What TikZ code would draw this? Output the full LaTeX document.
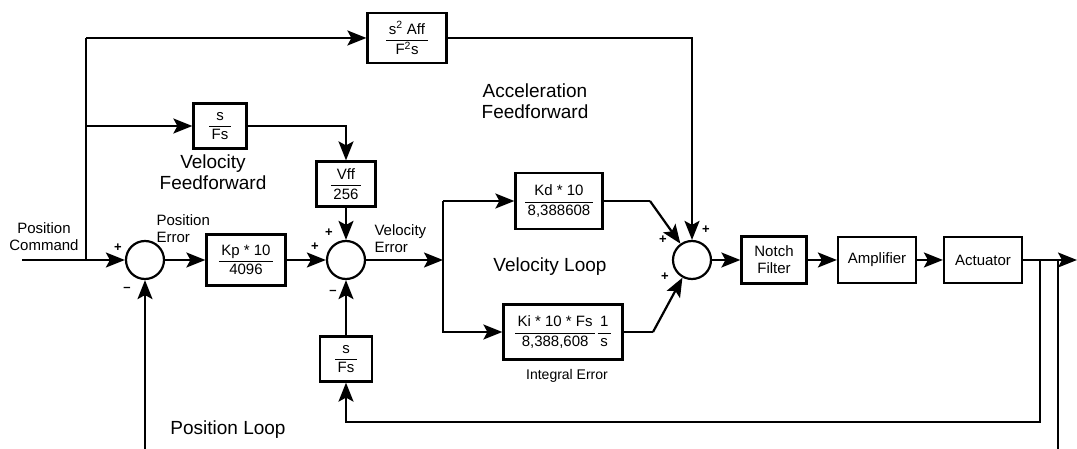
\documentclass[tikz,border=0pt]{standalone}
\usepackage{fontspec}
\setmainfont{Liberation Sans}
\usetikzlibrary{arrows.meta}
\newcommand{\blockfrac}[2]{$\displaystyle\frac{\mbox{\,#1\,}}{\mbox{\,#2\,}}$}
\begin{document}
\begin{tikzpicture}[x=1pt, y=-1pt,
        every node/.style={font=\fontsize{15}{17}\selectfont},
        block/.style={draw, line width=2.2pt, inner sep=2pt, align=center},
        sumnode/.style={draw, circle, line width=2.2pt, minimum size=38pt, inner sep=0pt},
        sig/.style={line width=2.2pt, -{Stealth[length=19pt, width=15pt, inset=4pt]}},
        wire/.style={line width=2.2pt},
        bigl/.style={font=\fontsize{19}{21}\selectfont, align=center},
        sgn/.style={font=\fontsize{13}{13}\selectfont\bfseries, inner sep=0pt}]
      \useasboundingbox (0,0) rectangle (1077,449);
      % summing junctions
      \node[sumnode] (sumP) at (145,260) {};
      \node[sumnode] (sumV) at (346,260) {};
      \node[sumnode] (sumO) at (692,260) {};
      % blocks
      \node[block, minimum width=79pt, minimum height=50pt] (aff) at (407,38) {\blockfrac{s\textsuperscript{2} Aff}{F\textsuperscript{2}s}};
      \node[block, minimum width=53pt, minimum height=45pt] (vffin) at (220,126) {\blockfrac{s}{Fs}};
      \node[block, minimum width=59pt, minimum height=45pt] (vff) at (346,184) {\blockfrac{Vff}{256}};
      \node[block, minimum width=79pt, minimum height=51pt] (kp) at (246,260) {\blockfrac{Kp * 10}{4096}};
      \node[block, minimum width=52pt, minimum height=45pt] (vfb) at (346,359) {\blockfrac{s}{Fs}};
      \node[block, minimum width=87pt, minimum height=56pt] (kd) at (559,201) {\blockfrac{Kd * 10}{8,388608}};
      \node[block, minimum width=119pt, minimum height=55pt] (ki) at (563,332) {\blockfrac{Ki * 10 * Fs}{8,388,608}\blockfrac{1}{s}};
      \node[block, minimum width=65pt, minimum height=47pt] (notch) at (774,260) {Notch\\Filter};
      \node[block, minimum width=78pt, minimum height=46pt] (amp) at (877,260) {Amplifier};
      \node[block, minimum width=78pt, minimum height=46pt] (act) at (983,260) {Actuator};
      % free ends
      \coordinate (cmd) at (22,260);
      \coordinate (cmdtap) at (86,260);
      \coordinate (verr) at (443,260);
      \coordinate (out) at (1077,260);
      \coordinate (tapV) at (1040,260);
      \coordinate (tapP) at (1058,260);
      \coordinate (botP) at (145,449);
      \coordinate (botT) at (1058,449);
      % command path and feedforwards
      \draw[sig] (cmd) -- (sumP);
      \draw[wire] (cmdtap) -- (86,38);
      \draw[sig] (86,38) -- (aff);
      \draw[sig] (86,126) -- (vffin);
      \draw[sig] (vffin.east) -| (vff.north);
      \draw[sig] (vff) -- (sumV);
      \draw[wire] (aff.east) -| (692,200);
      \draw[sig] (692,200) -- (sumO);
      % forward path
      \draw[sig] (sumP) -- (kp);
      \draw[sig] (kp) -- (sumV);
      \draw[sig] (sumV) -- (verr);
      \draw[sig] (443,201) |- (ki.west);
      \draw[sig] (443,201) -- (kd.west);
      \draw[wire] (kd.east) -- (650,201);
      \draw[sig] (650,201) -- (sumO);
      \draw[wire] (ki.east) -- (653,332);
      \draw[sig] (653,332) -- (sumO);
      \draw[sig] (sumO) -- (notch);
      \draw[sig] (notch) -- (amp);
      \draw[sig] (amp) -- (act);
      \draw[sig] (act) -- (out);
      % feedback loops
      \draw[sig] (tapV) |- (346,422) -- (vfb.south);
      \draw[sig] (vfb) -- (sumV);
      \draw[wire] (tapP) -- (botT);
      \draw[sig] (botP) -- (sumP);
      % signs
      \node[sgn] at (118,248) {+};
      \node[sgn] at (127,289) {--};
      \node[sgn] at (315,247) {+};
      \node[sgn] at (329,233) {+};
      \node[sgn] at (333,292) {--};
      \node[sgn] at (706,230) {+};
      \node[sgn] at (663,240) {+};
      \node[sgn] at (665,277) {+};
      % labels
      \node[align=center] (cmdlbl) at (44,237) {Position\\Command};
      \node[align=left, anchor=west] (perr) at (153,229) {Position\\Error};
      \node[align=left, anchor=west] (verrlbl) at (371,239) {Velocity\\Error};
      \node[bigl] (vfflbl) at (213,172) {Velocity\\Feedforward};
      \node[bigl] (afflbl) at (535,101) {Acceleration\\Feedforward};
      \node[bigl] (vloop) at (550,267) {Velocity Loop};
      \node[bigl] (ploop) at (228,430) {Position Loop};
      \node[font=\fontsize{14}{16}\selectfont] (ierr) at (567,376) {Integral Error};
    \end{tikzpicture}
\end{document}
